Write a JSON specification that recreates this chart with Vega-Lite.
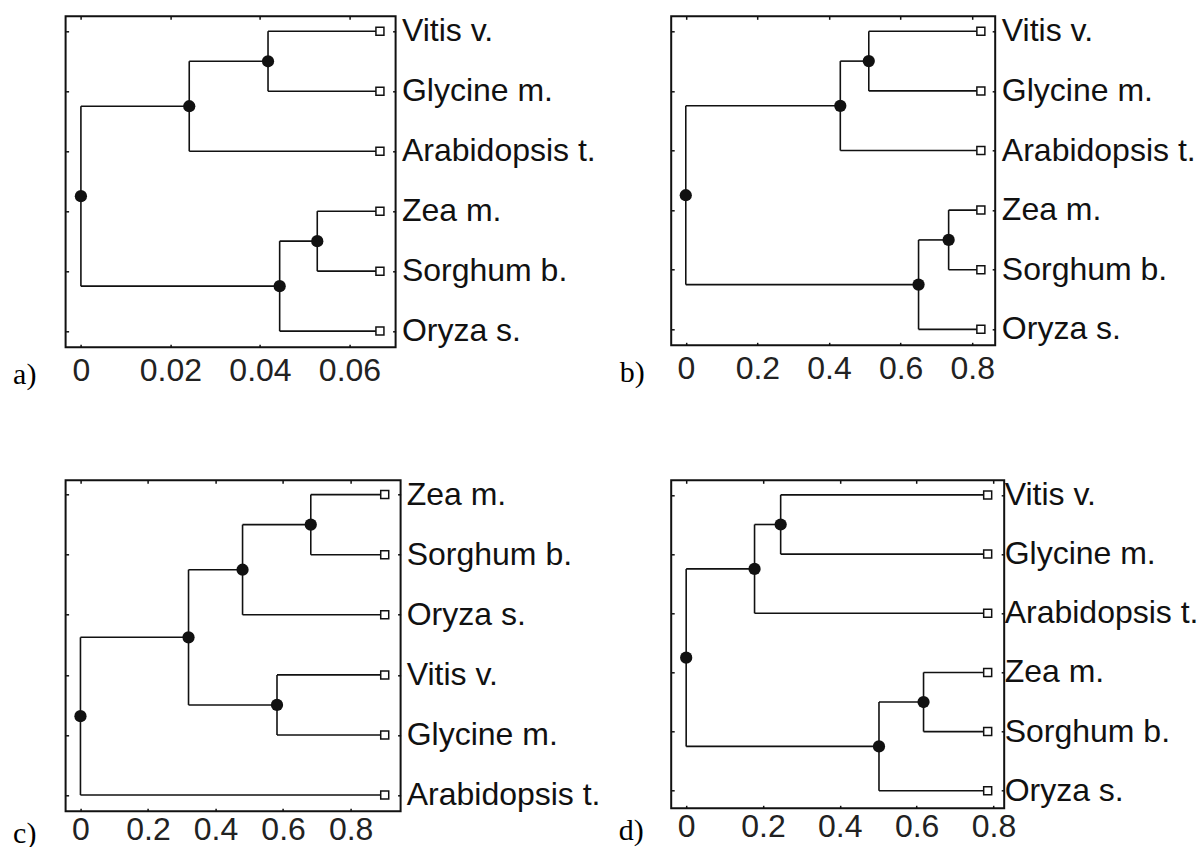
{
  "$schema": "https://vega.github.io/schema/vega-lite/v6.json",
  "background": "white",
  "padding": {"left": 11.6, "top": 13.3, "right": 0, "bottom": 0},
  "columns": 2,
  "bounds": "flush",
  "spacing": {"row": 133, "column": 270.6},
  "datasets": {
    "a_seg": [
      {"x": 0.0418, "x2": 0.0418, "y": 1, "y2": 2},
      {"x": 0.0418, "x2": 0.0668, "y": 1, "y2": 1},
      {"x": 0.0418, "x2": 0.0668, "y": 2, "y2": 2},
      {"x": 0.0242, "x2": 0.0242, "y": 1.5, "y2": 3},
      {"x": 0.0242, "x2": 0.0418, "y": 1.5, "y2": 1.5},
      {"x": 0.0242, "x2": 0.0668, "y": 3, "y2": 3},
      {"x": 0.0528, "x2": 0.0528, "y": 4, "y2": 5},
      {"x": 0.0528, "x2": 0.0668, "y": 4, "y2": 4},
      {"x": 0.0528, "x2": 0.0668, "y": 5, "y2": 5},
      {"x": 0.0444, "x2": 0.0444, "y": 4.5, "y2": 6},
      {"x": 0.0444, "x2": 0.0528, "y": 4.5, "y2": 4.5},
      {"x": 0.0444, "x2": 0.0668, "y": 6, "y2": 6},
      {"x": 0, "x2": 0, "y": 2.25, "y2": 5.25},
      {"x": 0, "x2": 0.0242, "y": 2.25, "y2": 2.25},
      {"x": 0, "x2": 0.0444, "y": 5.25, "y2": 5.25}
    ],
    "a_node": [
      {"x": 0.0418, "y": 1.5}, {"x": 0.0242, "y": 2.25}, {"x": 0.0528, "y": 4.5},
      {"x": 0.0444, "y": 5.25}, {"x": 0, "y": 3.75}
    ],
    "a_leaf": [
      {"name": "Vitis v.", "x": 0.0668, "y": 1},
      {"name": "Glycine m.", "x": 0.0668, "y": 2},
      {"name": "Arabidopsis t.", "x": 0.0668, "y": 3},
      {"name": "Zea m.", "x": 0.0668, "y": 4},
      {"name": "Sorghum b.", "x": 0.0668, "y": 5},
      {"name": "Oryza s.", "x": 0.0668, "y": 6}
    ],
    "b_seg": [
      {"x": 0.511, "x2": 0.511, "y": 1, "y2": 2},
      {"x": 0.511, "x2": 0.824, "y": 1, "y2": 1},
      {"x": 0.511, "x2": 0.824, "y": 2, "y2": 2},
      {"x": 0.4315, "x2": 0.4315, "y": 1.5, "y2": 3},
      {"x": 0.4315, "x2": 0.511, "y": 1.5, "y2": 1.5},
      {"x": 0.4315, "x2": 0.824, "y": 3, "y2": 3},
      {"x": 0.734, "x2": 0.734, "y": 4, "y2": 5},
      {"x": 0.734, "x2": 0.824, "y": 4, "y2": 4},
      {"x": 0.734, "x2": 0.824, "y": 5, "y2": 5},
      {"x": 0.65, "x2": 0.65, "y": 4.5, "y2": 6},
      {"x": 0.65, "x2": 0.734, "y": 4.5, "y2": 4.5},
      {"x": 0.65, "x2": 0.824, "y": 6, "y2": 6},
      {"x": 0, "x2": 0, "y": 2.25, "y2": 5.25},
      {"x": 0, "x2": 0.4315, "y": 2.25, "y2": 2.25},
      {"x": 0, "x2": 0.65, "y": 5.25, "y2": 5.25}
    ],
    "b_node": [
      {"x": 0.511, "y": 1.5}, {"x": 0.4315, "y": 2.25}, {"x": 0.734, "y": 4.5},
      {"x": 0.65, "y": 5.25}, {"x": 0, "y": 3.75}
    ],
    "b_leaf": [
      {"name": "Vitis v.", "x": 0.824, "y": 1},
      {"name": "Glycine m.", "x": 0.824, "y": 2},
      {"name": "Arabidopsis t.", "x": 0.824, "y": 3},
      {"name": "Zea m.", "x": 0.824, "y": 4},
      {"name": "Sorghum b.", "x": 0.824, "y": 5},
      {"name": "Oryza s.", "x": 0.824, "y": 6}
    ],
    "c_seg": [
      {"x": 0.682, "x2": 0.682, "y": 1, "y2": 2},
      {"x": 0.682, "x2": 0.901, "y": 1, "y2": 1},
      {"x": 0.682, "x2": 0.901, "y": 2, "y2": 2},
      {"x": 0.48, "x2": 0.48, "y": 1.5, "y2": 3},
      {"x": 0.48, "x2": 0.682, "y": 1.5, "y2": 1.5},
      {"x": 0.48, "x2": 0.901, "y": 3, "y2": 3},
      {"x": 0.582, "x2": 0.582, "y": 4, "y2": 5},
      {"x": 0.582, "x2": 0.901, "y": 4, "y2": 4},
      {"x": 0.582, "x2": 0.901, "y": 5, "y2": 5},
      {"x": 0.32, "x2": 0.32, "y": 2.25, "y2": 4.5},
      {"x": 0.32, "x2": 0.48, "y": 2.25, "y2": 2.25},
      {"x": 0.32, "x2": 0.582, "y": 4.5, "y2": 4.5},
      {"x": 0, "x2": 0, "y": 3.375, "y2": 6},
      {"x": 0, "x2": 0.32, "y": 3.375, "y2": 3.375},
      {"x": 0, "x2": 0.901, "y": 6, "y2": 6}
    ],
    "c_node": [
      {"x": 0.682, "y": 1.5}, {"x": 0.48, "y": 2.25}, {"x": 0.582, "y": 4.5},
      {"x": 0.32, "y": 3.375}, {"x": 0, "y": 4.6875}
    ],
    "c_leaf": [
      {"name": "Zea m.", "x": 0.901, "y": 1},
      {"name": "Sorghum b.", "x": 0.901, "y": 2},
      {"name": "Oryza s.", "x": 0.901, "y": 3},
      {"name": "Vitis v.", "x": 0.901, "y": 4},
      {"name": "Glycine m.", "x": 0.901, "y": 5},
      {"name": "Arabidopsis t.", "x": 0.901, "y": 6}
    ],
    "d_seg": [
      {"x": 0.246, "x2": 0.246, "y": 1, "y2": 2},
      {"x": 0.246, "x2": 0.785, "y": 1, "y2": 1},
      {"x": 0.246, "x2": 0.785, "y": 2, "y2": 2},
      {"x": 0.178, "x2": 0.178, "y": 1.5, "y2": 3},
      {"x": 0.178, "x2": 0.246, "y": 1.5, "y2": 1.5},
      {"x": 0.178, "x2": 0.785, "y": 3, "y2": 3},
      {"x": 0.618, "x2": 0.618, "y": 4, "y2": 5},
      {"x": 0.618, "x2": 0.785, "y": 4, "y2": 4},
      {"x": 0.618, "x2": 0.785, "y": 5, "y2": 5},
      {"x": 0.502, "x2": 0.502, "y": 4.5, "y2": 6},
      {"x": 0.502, "x2": 0.618, "y": 4.5, "y2": 4.5},
      {"x": 0.502, "x2": 0.785, "y": 6, "y2": 6},
      {"x": 0, "x2": 0, "y": 2.25, "y2": 5.25},
      {"x": 0, "x2": 0.178, "y": 2.25, "y2": 2.25},
      {"x": 0, "x2": 0.502, "y": 5.25, "y2": 5.25}
    ],
    "d_node": [
      {"x": 0.246, "y": 1.5}, {"x": 0.178, "y": 2.25}, {"x": 0.618, "y": 4.5},
      {"x": 0.502, "y": 5.25}, {"x": 0, "y": 3.75}
    ],
    "d_leaf": [
      {"name": "Vitis v.", "x": 0.785, "y": 1},
      {"name": "Glycine m.", "x": 0.785, "y": 2},
      {"name": "Arabidopsis t.", "x": 0.785, "y": 3},
      {"name": "Zea m.", "x": 0.785, "y": 4},
      {"name": "Sorghum b.", "x": 0.785, "y": 5},
      {"name": "Oryza s.", "x": 0.785, "y": 6}
    ]
  },
  "concat": [
    {
      "width": 330, "height": 331,
      "layer": [
        {"data": {"name": "a_seg"}, "mark": {"type": "rule", "color": "#111", "strokeWidth": 1.6},
         "encoding": {
           "x": {"field": "x", "type": "quantitative", "scale": {"domain": [-0.00342, 0.0703], "nice": false, "zero": false},
                 "axis": {"orient": "bottom", "values": [0, 0.02, 0.04, 0.06], "format": "~g", "labelPadding": 36, "labelBaseline": "alphabetic", "title": "a)", "titleX": -53, "titleY": 36}},
           "x2": {"field": "x2"},
           "y": {"field": "y", "type": "quantitative", "scale": {"domain": [0.75, 6.27], "reverse": true, "nice": false, "zero": false},
                 "axis": {"orient": "left", "values": [1, 2, 3, 4, 5, 6], "labels": false, "title": null}},
           "y2": {"field": "y2"}}},
        {"data": {"name": "a_leaf"}, "mark": {"type": "square", "size": 64, "filled": true, "fill": "white", "stroke": "#111", "strokeWidth": 1.5, "opacity": 1},
         "encoding": {"x": {"field": "x", "type": "quantitative", "axis": null}, "y": {"field": "y", "type": "quantitative", "axis": null}}},
        {"data": {"name": "a_node"}, "mark": {"type": "circle", "size": 150, "color": "#111", "opacity": 1},
         "encoding": {
           "x": {"field": "x", "type": "quantitative", "axis": {"orient": "top", "values": [0, 0.02, 0.04, 0.06], "labels": false, "title": null}},
           "y": {"field": "y", "type": "quantitative", "axis": {"orient": "right", "values": [1, 2, 3, 4, 5, 6], "labels": false, "title": null}}}},
        {"data": {"name": "a_leaf"}, "mark": {"type": "text", "align": "left", "baseline": "middle", "dx": 22, "font": "Liberation Sans", "fontSize": 32, "color": "#111"},
         "encoding": {"x": {"field": "x", "type": "quantitative", "axis": null}, "y": {"field": "y", "type": "quantitative", "axis": null}, "text": {"field": "name"}}}
      ],
      "resolve": {"axis": {"x": "independent", "y": "independent"}}
    },
    {
      "width": 324, "height": 329,
      "layer": [
        {"data": {"name": "b_seg"}, "mark": {"type": "rule", "color": "#111", "strokeWidth": 1.6},
         "encoding": {
           "x": {"field": "x", "type": "quantitative", "scale": {"domain": [-0.0407, 0.864], "nice": false, "zero": false},
                 "axis": {"orient": "bottom", "values": [0, 0.2, 0.4, 0.6, 0.8], "format": "~g", "labelPadding": 36, "labelBaseline": "alphabetic", "title": "b)", "titleX": -52, "titleY": 36}},
           "x2": {"field": "x2"},
           "y": {"field": "y", "type": "quantitative", "scale": {"domain": [0.748, 6.268], "reverse": true, "nice": false, "zero": false},
                 "axis": {"orient": "left", "values": [1, 2, 3, 4, 5, 6], "labels": false, "title": null}},
           "y2": {"field": "y2"}}},
        {"data": {"name": "b_leaf"}, "mark": {"type": "square", "size": 64, "filled": true, "fill": "white", "stroke": "#111", "strokeWidth": 1.5, "opacity": 1},
         "encoding": {"x": {"field": "x", "type": "quantitative", "axis": null}, "y": {"field": "y", "type": "quantitative", "axis": null}}},
        {"data": {"name": "b_node"}, "mark": {"type": "circle", "size": 150, "color": "#111", "opacity": 1},
         "encoding": {
           "x": {"field": "x", "type": "quantitative", "axis": {"orient": "top", "values": [0, 0.2, 0.4, 0.6, 0.8], "labels": false, "title": null}},
           "y": {"field": "y", "type": "quantitative", "axis": {"orient": "right", "values": [1, 2, 3, 4, 5, 6], "labels": false, "title": null}}}},
        {"data": {"name": "b_leaf"}, "mark": {"type": "text", "align": "left", "baseline": "middle", "dx": 21, "font": "Liberation Sans", "fontSize": 32, "color": "#111"},
         "encoding": {"x": {"field": "x", "type": "quantitative", "axis": null}, "y": {"field": "y", "type": "quantitative", "axis": null}, "text": {"field": "name"}}}
      ],
      "resolve": {"axis": {"x": "independent", "y": "independent"}}
    },
    {
      "width": 335, "height": 331,
      "layer": [
        {"data": {"name": "c_seg"}, "mark": {"type": "rule", "color": "#111", "strokeWidth": 1.6},
         "encoding": {
           "x": {"field": "x", "type": "quantitative", "scale": {"domain": [-0.044, 0.948], "nice": false, "zero": false},
                 "axis": {"orient": "bottom", "values": [0, 0.2, 0.4, 0.6, 0.8], "format": "~g", "labelPadding": 31, "labelBaseline": "alphabetic", "title": "c)", "titleX": -53, "titleY": 31}},
           "x2": {"field": "x2"},
           "y": {"field": "y", "type": "quantitative", "scale": {"domain": [0.762, 6.27], "reverse": true, "nice": false, "zero": false},
                 "axis": {"orient": "left", "values": [1, 2, 3, 4, 5, 6], "labels": false, "title": null}},
           "y2": {"field": "y2"}}},
        {"data": {"name": "c_leaf"}, "mark": {"type": "square", "size": 64, "filled": true, "fill": "white", "stroke": "#111", "strokeWidth": 1.5, "opacity": 1},
         "encoding": {"x": {"field": "x", "type": "quantitative", "axis": null}, "y": {"field": "y", "type": "quantitative", "axis": null}}},
        {"data": {"name": "c_node"}, "mark": {"type": "circle", "size": 150, "color": "#111", "opacity": 1},
         "encoding": {
           "x": {"field": "x", "type": "quantitative", "axis": {"orient": "top", "values": [0, 0.2, 0.4, 0.6, 0.8], "labels": false, "title": null}},
           "y": {"field": "y", "type": "quantitative", "axis": {"orient": "right", "values": [1, 2, 3, 4, 5, 6], "labels": false, "title": null}}}},
        {"data": {"name": "c_leaf"}, "mark": {"type": "text", "align": "left", "baseline": "middle", "dx": 22, "font": "Liberation Sans", "fontSize": 32, "color": "#111"},
         "encoding": {"x": {"field": "x", "type": "quantitative", "axis": null}, "y": {"field": "y", "type": "quantitative", "axis": null}, "text": {"field": "name"}}}
      ],
      "resolve": {"axis": {"x": "independent", "y": "independent"}}
    },
    {
      "width": 333, "height": 328,
      "layer": [
        {"data": {"name": "d_seg"}, "mark": {"type": "rule", "color": "#111", "strokeWidth": 1.6},
         "encoding": {
           "x": {"field": "x", "type": "quantitative", "scale": {"domain": [-0.039, 0.828], "nice": false, "zero": false},
                 "axis": {"orient": "bottom", "values": [0, 0.2, 0.4, 0.6, 0.8], "format": "~g", "labelPadding": 31, "labelBaseline": "alphabetic", "title": "d)", "titleX": -53, "titleY": 31}},
           "x2": {"field": "x2"},
           "y": {"field": "y", "type": "quantitative", "scale": {"domain": [0.753, 6.296], "reverse": true, "nice": false, "zero": false},
                 "axis": {"orient": "left", "values": [1, 2, 3, 4, 5, 6], "labels": false, "title": null}},
           "y2": {"field": "y2"}}},
        {"data": {"name": "d_leaf"}, "mark": {"type": "square", "size": 64, "filled": true, "fill": "white", "stroke": "#111", "strokeWidth": 1.5, "opacity": 1},
         "encoding": {"x": {"field": "x", "type": "quantitative", "axis": null}, "y": {"field": "y", "type": "quantitative", "axis": null}}},
        {"data": {"name": "d_node"}, "mark": {"type": "circle", "size": 150, "color": "#111", "opacity": 1},
         "encoding": {
           "x": {"field": "x", "type": "quantitative", "axis": {"orient": "top", "values": [0, 0.2, 0.4, 0.6, 0.8], "labels": false, "title": null}},
           "y": {"field": "y", "type": "quantitative", "axis": {"orient": "right", "values": [1, 2, 3, 4, 5, 6], "labels": false, "title": null}}}},
        {"data": {"name": "d_leaf"}, "mark": {"type": "text", "align": "left", "baseline": "middle", "dx": 17, "font": "Liberation Sans", "fontSize": 32, "color": "#111"},
         "encoding": {"x": {"field": "x", "type": "quantitative", "axis": null}, "y": {"field": "y", "type": "quantitative", "axis": null}, "text": {"field": "name"}}}
      ],
      "resolve": {"axis": {"x": "independent", "y": "independent"}}
    }
  ],
  "config": {
    "view": {"stroke": "#111", "strokeWidth": 2},
    "axis": {
      "domain": false, "grid": false, "tickSize": -3, "tickColor": "#111", "tickWidth": 1.5,
      "labelFont": "Liberation Sans", "labelFontSize": 32, "labelColor": "#222", "labelFlush": false, "labelOverlap": false,
      "titleFont": "Liberation Serif", "titleFontSize": 30, "titleFontWeight": "normal", "titleColor": "#000",
      "titleAngle": 0, "titleAlign": "left", "titleBaseline": "alphabetic"
    }
  }
}
